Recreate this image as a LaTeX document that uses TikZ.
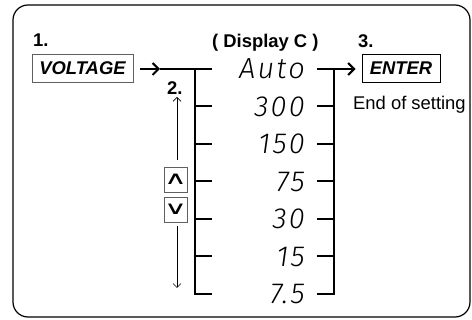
\documentclass[tikz,border=0pt]{standalone}
\usepackage{graphicx}
\usepackage{fontspec}
\setmainfont{Liberation Sans}
\newfontfamily\segfont{Fira Sans Light Italic}[LetterSpace=8]
\newfontfamily\keyfont{DejaVu Sans}
\usetikzlibrary{arrows.meta,calc,positioning}
\definecolor{framegray}{RGB}{95,95,95}

\begin{document}
\begin{tikzpicture}[x=1pt,y=-1pt,>={Straight Barb[length=6pt,width=12pt]},
  lbl/.style={font=\fontsize{18.4}{21}\selectfont\bfseries,inner sep=0pt,anchor=base west},
  keybox/.style={draw,line width=0.9pt,font=\fontsize{18.4}{21}\selectfont\bfseries\itshape,
    inner sep=0pt,minimum height=28pt},
  seg/.style={font=\segfont\fontsize{29}{30}\selectfont,inner sep=0pt,anchor=base east},
  bar/.style={line width=2pt},
  updown/.style={draw=framegray,line width=0.9pt,minimum width=23pt,minimum height=25pt,
    inner sep=0pt,font=\keyfont\fontsize{24}{24}\selectfont},
  thinarrow/.style={line width=0.7pt,-{Straight Barb[length=4pt,width=8pt]}}]
\useasboundingbox (0,0) rectangle (472,320);
% ramka
\draw[line width=1.2pt,rounded corners=15pt] (13,5) rectangle (470,317);
% numery kroków i nagłówek
\node[lbl] (n1) at (33,47) {1.};
\node[lbl] (title) at (212,48) {( Display C )};
\node[lbl] (n3) at (358,48) {3.};
\node[lbl] (n2) at (167,95) {2.};
% klawisze
\node[keybox,minimum width=101pt,draw=framegray] (volt) at (82.5,68) {VOLTAGE};
\node[keybox,minimum width=78pt] (enter) at (401,68.5) {ENTER};
\node[font=\fontsize{18.4}{21}\selectfont,inner sep=0pt,anchor=base west] (eos) at (353,110) {End of setting};
% wartości na wyświetlaczu
\foreach \v [count=\i from 0] in {Auto,300,150,75,30,15,7.5} {
  \coordinate (l\i) at (195,69+37.5*\i);
  \coordinate (lt\i) at (212,69+37.5*\i);
  \coordinate (r\i) at (334,69+37.5*\i);
  \coordinate (rt\i) at (317,69+37.5*\i);
  \node[seg] (d\i) at (305,79+37.5*\i) {\v};
}
% lewa szyna
\coordinate (vtip) at (160,69);
\draw[bar,->,shorten <=7pt] (volt.east |- vtip) -- (vtip);
\draw[bar] (vtip) -- (lt0);
\draw[bar] (lt6) -- (l6) -- (l0);
\foreach \i in {1,...,5} \draw[bar] (l\i) -- (lt\i);
% prawa szyna
\draw[bar] (rt6) -- (r6) -- (r0);
\foreach \i in {1,...,5} \draw[bar] (rt\i) -- (r\i);
\draw[bar,->,shorten >=6pt] (rt0) -- (enter.west |- rt0);
% strzałki w górę i w dół
\node[updown] (kup) at (175.5,179.5) {\scalebox{1.3}[0.75]{∧}};
\node[updown] (kdn) at (175.5,209.5) {\scalebox{1.3}[0.75]{∨}};
\coordinate (uptop) at (177,97);
\coordinate (dnbot) at (177,288);
\draw[thinarrow,shorten <=7pt] (kup.north -| uptop) -- (uptop);
\draw[thinarrow,shorten <=4pt] (kdn.south -| dnbot) -- (dnbot);
\end{tikzpicture}
\end{document}
